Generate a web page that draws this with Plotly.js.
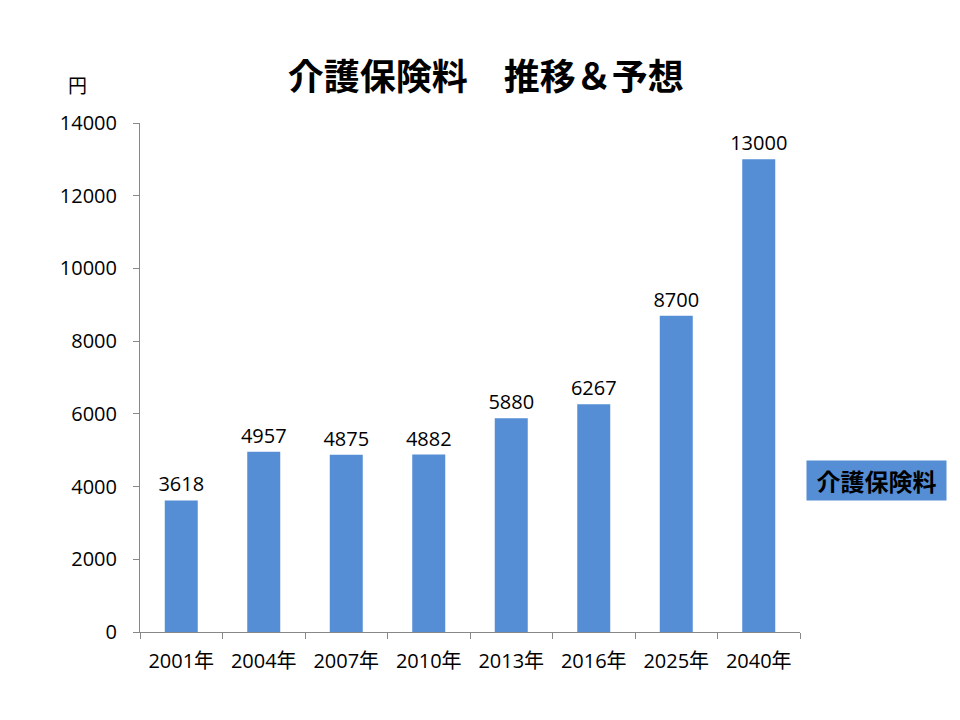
<!DOCTYPE html>
<html>
<head>
<meta charset="utf-8">
<script src="https://cdn.plot.ly/plotly-3.0.1.min.js"></script>
<style>
  body { margin: 0; background: #fff; }
  #chart { width: 960px; height: 720px; }
</style>
</head>
<body>
<div id="chart"></div>
<script>
// 年ごとの介護保険料（月額・円）
const years = ['2001年', '2004年', '2007年', '2010年', '2013年', '2016年', '2025年', '2040年'];
const premiums = [3618, 4957, 4875, 4882, 5880, 6267, 8700, 13000];
const seriesName = '介護保険料';

const font_num = 'Open Sans, Noto Sans CJK JP, sans-serif';
const font_jp = 'Noto Sans CJK JP, sans-serif';

var trace = {
    type: 'bar',
    name: seriesName,
    x: years,
    y: premiums,
    text: premiums.map(String),
    textposition: 'outside',
    constraintext: 'none',
    cliponaxis: false,
    textfont: {family: font_num, size: 20, color: '#000'},
    marker: {color: '#558ED5'},
    hoverinfo: 'x+y',
};

var layout = {
    width: 960,
    height: 720,
    margin: {l: 140, r: 160, t: 123, b: 88},
    paper_bgcolor: '#fff',
    plot_bgcolor: '#fff',
    showlegend: false,
    bargap: 0.6,
    title: {
        text: '<b>介護保険料　推移＆予想</b>',
        font: {family: font_jp, size: 36, color: '#000'},
        x: 0.506, xanchor: 'center',
        y: 0.893, yanchor: 'middle',
    },
    xaxis: {
        type: 'category',
        tickson: 'boundaries',
        ticks: 'outside',
        ticklen: 6,
        tickcolor: '#888',
        showline: true,
        linecolor: '#888',
        showgrid: false,
        tickfont: {family: font_num, size: 20, color: '#000'},
        ticklabelstandoff: 11,
    },
    yaxis: {
        range: [0, 14000],
        dtick: 2000,
        tickformat: 'd',
        ticks: 'outside',
        ticklen: 6,
        tickcolor: '#888',
        showline: true,
        linecolor: '#888',
        showgrid: false,
        zeroline: false,
        tickfont: {family: font_num, size: 20, color: '#000'},
        ticklabelstandoff: 12,
    },
    annotations: [
        {
            text: '円', xref: 'paper', yref: 'paper',
            x: -0.095, y: 1.075, xanchor: 'center', yanchor: 'middle',
            showarrow: false,
            font: {family: font_jp, size: 19, color: '#000'},
        },
        {
            text: '<b>' + seriesName + '</b>', xref: 'paper', yref: 'paper',
            x: 1.0098, y: 0.298, xanchor: 'left', yanchor: 'middle',
            showarrow: false,
            bgcolor: '#558ED5',
            width: 133, height: 33,
            borderpad: 3,
            font: {family: font_jp, size: 24, color: '#000'},
        },
    ],
};

var config = {responsive: false, displayModeBar: false};

Plotly.newPlot('chart', [trace], layout, config);
</script>
</body>
</html>
